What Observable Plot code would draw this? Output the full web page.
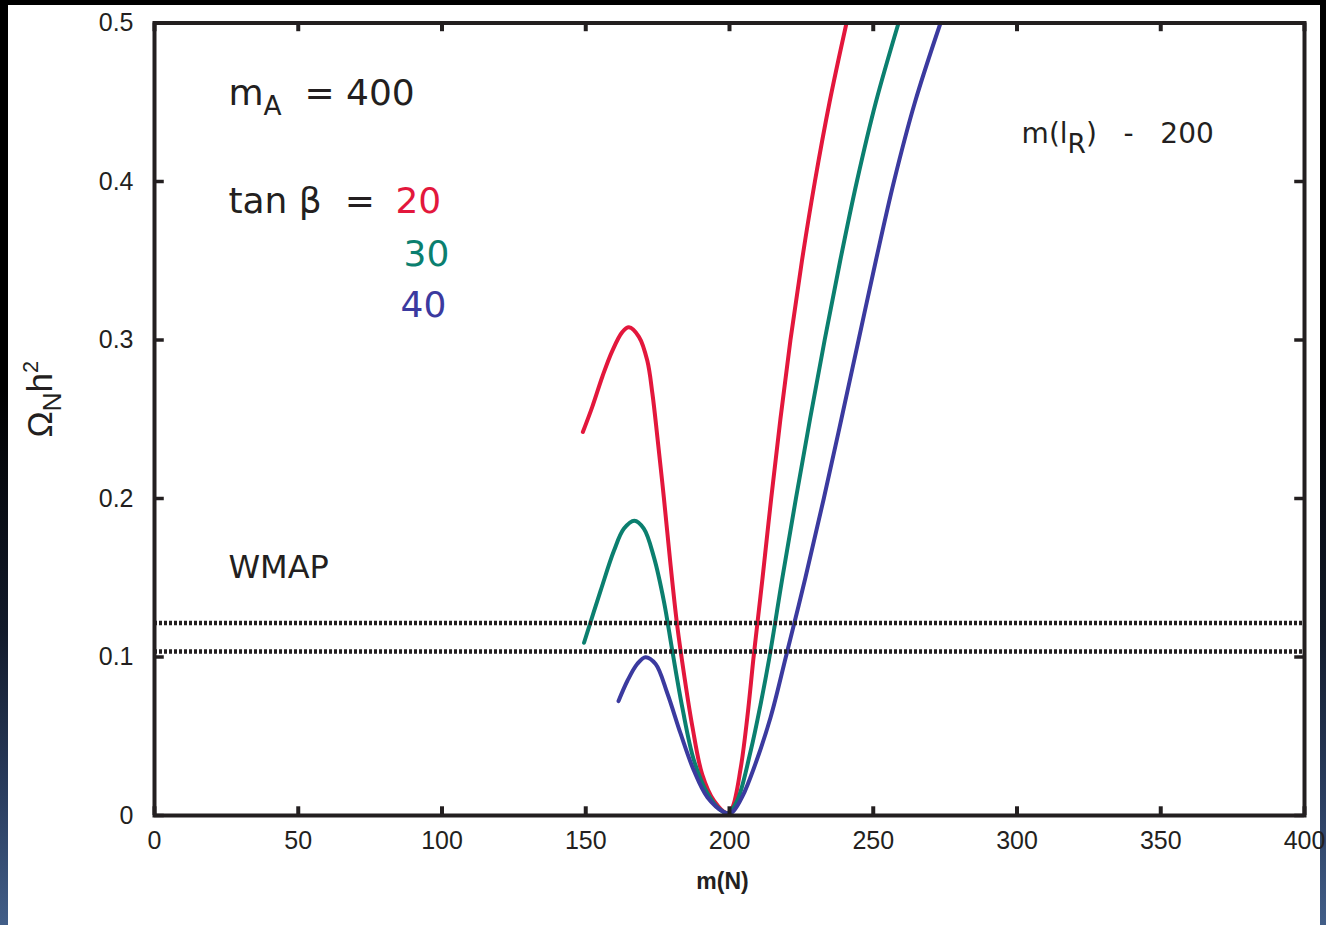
<!DOCTYPE html>
<html><head><meta charset="utf-8">
<script src="https://cdn.jsdelivr.net/npm/d3@7"></script>
<script src="https://cdn.jsdelivr.net/npm/@observablehq/plot@0.6"></script>
<style>
html,body{margin:0;padding:0;width:1326px;height:925px;overflow:hidden;
  background:linear-gradient(180deg,#000 0%,#000 42%,#121a2a 68%,#2a3d5f 86%,#425e88 100%);}
#panel{position:absolute;left:8px;top:5px;width:1312px;height:920px;background:#fff;}
#panel svg{position:absolute;left:0;top:0;overflow:visible;}
svg text{white-space:pre;}
</style></head><body><div id="panel"></div>
<script>
// ---- data ----
const tanBeta = [20, 30, 40];
const seriesColors = ["#e3173c", "#0b7f6f", "#3b3a9f"];

const mN_tb20 = [149.0,152.3,155.8,159.2,162.7,165.0,168.5,171.4,173.2,174.9,177.2,179.5,181.8,184.2,187.1,190.5,194.6,199.3,201.0,203.9,206.2,208.5,211.5,214.5,217.7,221.2,225.2,229.7,234.8,240.7];
const omega_tb20 = [0.242,0.258,0.277,0.293,0.305,0.308,0.302,0.287,0.266,0.239,0.200,0.158,0.120,0.089,0.056,0.026,0.0094,0.0015,0.005,0.030,0.062,0.102,0.150,0.200,0.250,0.300,0.350,0.400,0.450,0.500];

const mN_tb30 = [149.4,155.2,159.8,163.3,166.9,170.2,173.7,177.2,180.1,183.6,187.6,192.3,196.5,199.6,202.7,207.4,210.8,213.9,218.4,223.1,228.0,233.1,238.5,244.3,250.9,258.8];
const omega_tb30 = [0.109,0.142,0.167,0.181,0.186,0.181,0.163,0.135,0.104,0.068,0.035,0.014,0.004,0.0015,0.0094,0.041,0.070,0.100,0.150,0.200,0.250,0.300,0.350,0.400,0.450,0.500];

const mN_tb40 = [161.4,164.5,167.9,170.8,174.3,178.4,183.0,187.6,192.3,198.1,199.8,201.5,204.5,208.5,214.3,219.6,226.4,232.8,238.9,244.9,250.9,257.2,264.5,273.4];
const omega_tb40 = [0.0722,0.085,0.0956,0.0999,0.0956,0.077,0.0516,0.0284,0.0115,0.002,0.0012,0.003,0.012,0.030,0.062,0.100,0.150,0.200,0.250,0.300,0.350,0.400,0.450,0.500];

const wmapBounds = [0.1035, 0.1215];
const xTicks = [0, 50, 100, 150, 200, 250, 300, 350, 400];
const yTicks = [0, 0.1, 0.2, 0.3, 0.4, 0.5];

// ---- table ----
const seriesM = [mN_tb20, mN_tb30, mN_tb40];
const seriesO = [omega_tb20, omega_tb30, omega_tb40];
const rows = tanBeta.flatMap((tb, k) => seriesM[k].map((m, i) => ({tb, m, omega: seriesO[k][i]})));

const ink = "#231f20";
const annoFont = "DejaVu Sans, Verdana, sans-serif";

const chart = Plot.plot({
  width: 1312, height: 920,
  marginLeft: 146, marginRight: 16, marginTop: 17.5, marginBottom: 110,
  x: {domain: [0, 400]},
  y: {domain: [0, 0.5]},
  color: {domain: tanBeta, range: seriesColors},
  style: {background: "transparent", color: ink, fontFamily: "Liberation Sans, Arial, sans-serif", overflow: "visible"},
  marks: [
    Plot.line(rows, {x: "m", y: "omega", z: "tb", stroke: "tb", strokeWidth: 4, curve: "catmull-rom", clip: true}),
    Plot.ruleY(wmapBounds, {stroke: ink, strokeWidth: 4.5, strokeDasharray: "3,2"}),
    Plot.ruleX(xTicks, {y1: 0, y2: 0.0055, stroke: ink, strokeWidth: 4}),
    Plot.ruleX(xTicks, {y1: 0.5, y2: 0.4945, stroke: ink, strokeWidth: 4}),
    Plot.ruleY(yTicks, {x1: 0, x2: 3.4, stroke: ink, strokeWidth: 3.5}),
    Plot.ruleY(yTicks, {x1: 400, x2: 396.6, stroke: ink, strokeWidth: 3.5}),
    Plot.frame({stroke: ink, strokeWidth: 4}),
    Plot.axisX({ticks: xTicks, tickSize: 0, tickPadding: 16, fontSize: 25, label: null, tickFormat: d => String(d)}),
    Plot.axisY({ticks: yTicks, tickSize: 0, tickPadding: 21, fontSize: 25, label: null, tickFormat: d => String(d)}),
    // axis titles
    Plot.text(["m(N)"], {frameAnchor: "bottom", dx: -7, dy: 73, lineAnchor: "bottom", fontSize: 23, fontWeight: "bold", fontFamily: "Liberation Sans, Arial, sans-serif", fill: ink}),
    Plot.text(["Ω_{N}h^{2}"], {frameAnchor: "left", rotate: -90, dx: -103, dy: -20, textAnchor: "middle", lineAnchor: "bottom", fontSize: 35, fontFamily: "Liberation Sans, Arial, sans-serif", fill: ink}),
    // annotations
    Plot.text(["m_{A}  = 400"], {x: 25.7, y: 0.448, textAnchor: "start", lineAnchor: "bottom", fontSize: 36, fontFamily: annoFont, fill: ink}),
    Plot.text(["tan β  ="], {x: 25.7, y: 0.3804, textAnchor: "start", lineAnchor: "bottom", fontSize: 36, fontFamily: annoFont, fill: ink}),
    Plot.text([tanBeta[0]], {x: 83.8, y: 0.3804, text: d => String(d), fill: d => d, textAnchor: "start", lineAnchor: "bottom", fontSize: 36, fontFamily: annoFont}),
    Plot.text([tanBeta[1]], {x: 86.6, y: 0.347, text: d => String(d), fill: d => d, textAnchor: "start", lineAnchor: "bottom", fontSize: 36, fontFamily: annoFont}),
    Plot.text([tanBeta[2]], {x: 85.6, y: 0.3142, text: d => String(d), fill: d => d, textAnchor: "start", lineAnchor: "bottom", fontSize: 36, fontFamily: annoFont}),
    Plot.text(["m(l_{R})   -   200"], {x: 301.6, y: 0.424, textAnchor: "start", lineAnchor: "bottom", fontSize: 28, fontFamily: annoFont, fill: ink}),
    Plot.text(["WMAP"], {x: 25.7, y: 0.150, textAnchor: "start", lineAnchor: "bottom", fontSize: 32, fontFamily: annoFont, fill: ink})
  ]
});

// sub/superscript markup -> tspans
d3.select(chart).selectAll("text").each(function() {
  const el = this;
  const raw = el.textContent;
  if (!/[_^]\{/.test(raw)) return;
  const fs = parseFloat(getComputedStyle(el).fontSize) || 30;
  el.textContent = "";
  const re = /([_^])\{([^}]*)\}/g;
  let last = 0, shift = 0, m;
  const add = (str, kind) => {
    if (!str) return;
    const ts = d3.select(el).append("tspan").text(str);
    let target = 0;
    if (kind === "_") { ts.attr("font-size", fs * 0.88); target = fs * 0.33; }
    if (kind === "^") { ts.attr("font-size", fs * 0.72); target = -fs * 0.45; }
    const dy = target - shift;
    if (dy) ts.attr("dy", dy);
    shift = target;
  };
  while ((m = re.exec(raw))) { add(raw.slice(last, m.index), null); add(m[2], m[1]); last = re.lastIndex; }
  add(raw.slice(last), null);
});

document.getElementById("panel").appendChild(chart);
</script>
</body></html>
